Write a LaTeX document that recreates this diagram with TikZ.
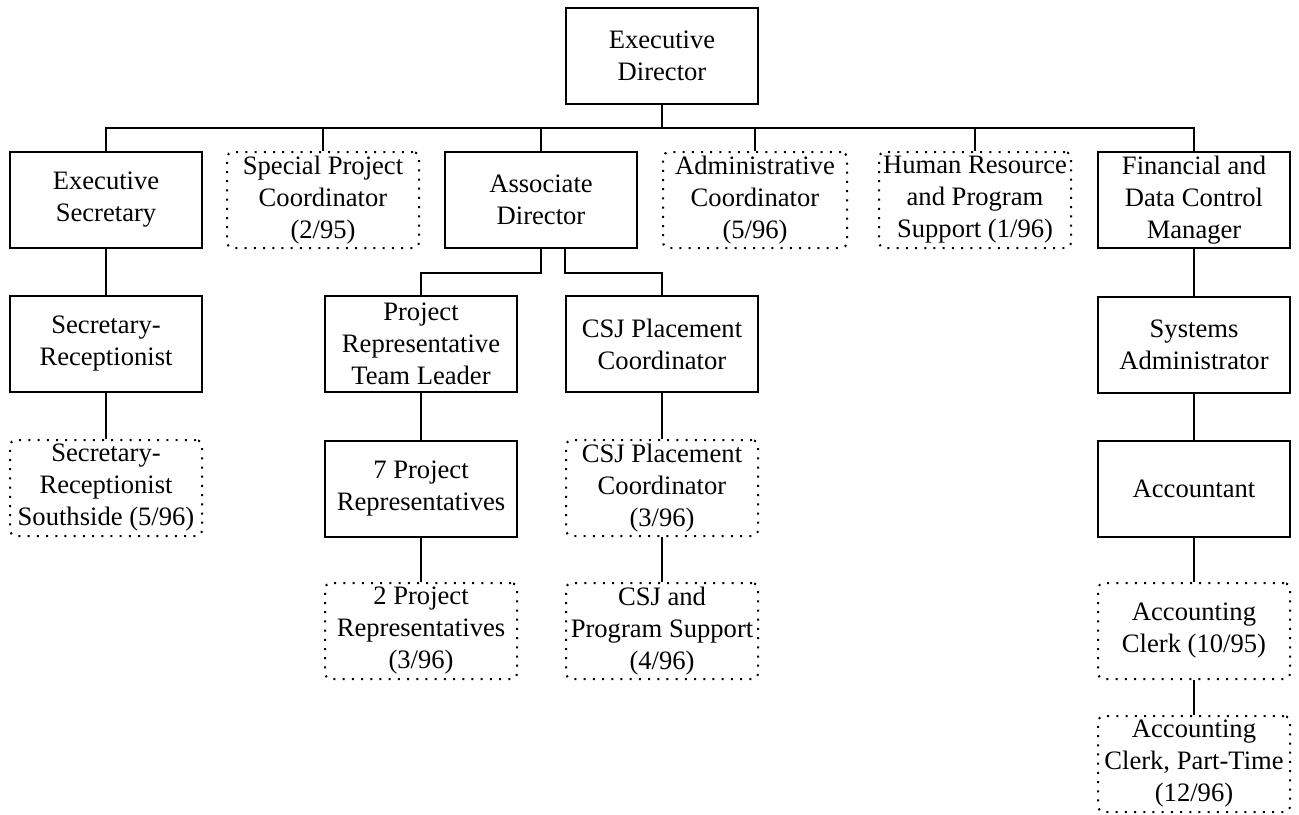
\documentclass[tikz,border=0pt]{standalone}
\usepackage{fontspec}
\setmainfont{Liberation Serif}
\usepackage{tikz}
\usetikzlibrary{positioning}

\begin{document}
\begin{tikzpicture}[x=0.5pt,y=-0.5pt,
  post/.style={draw,line width=1pt,minimum width=96pt,minimum height=48pt,align=center,inner sep=1pt,font=\fontsize{13.3}{16}\selectfont},
  newpost/.style={post,line width=1pt,dash pattern=on 1pt off 3.6pt,rounded corners=3pt},
  link/.style={line width=0.7pt}]
\useasboundingbox (0,0) rectangle (1299,814);
\node[post] (ed) at (662,56) {Executive\\Director};
\node[post] (es) at (106,200) {Executive\\Secretary};
\node[newpost] (spc) at (323,200) {Special Project\\Coordinator\\(2/95)};
\node[post] (ad) at (541,200) {Associate\\Director};
\node[newpost,minimum width=92pt] (ac) at (755,200) {Administrative\\Coordinator\\(5/96)};
\node[newpost] (hr) at (975,200) {Human Resource\\and Program\\Support (1/96)};
\node[post] (fdc) at (1194,200) {Financial and\\Data Control\\Manager};
\node[post] (sr) at (106,344) {Secretary-\\Receptionist};
\node[post] (prtl) at (421,344) {Project\\Representative\\Team Leader};
\node[post] (csj) at (662,344) {CSJ Placement\\Coordinator};
\node[post] (sa) at (1194,345) {Systems\\Administrator};
\node[newpost] (srs) at (106,488) {Secretary-\\Receptionist\\Southside (5/96)};
\node[post] (pr7) at (421,489) {7 Project\\Representatives};
\node[newpost] (csj2) at (662,488) {CSJ Placement\\Coordinator\\(3/96)};
\node[post] (acct) at (1194,489) {Accountant};
\node[newpost] (pr2) at (421,631) {2 Project\\Representatives\\(3/96)};
\node[newpost] (csjps) at (662,631) {CSJ and\\Program Support\\(4/96)};
\node[newpost] (clerk) at (1194,631) {Accounting\\Clerk (10/95)};
\node[newpost] (clerk2) at (1194,764) {Accounting\\Clerk, Part-Time\\(12/96)};
\foreach \c in {es,spc,ad,ac,hr,fdc}
  \draw[link] (ed.south) -- ++(0,23) -| (\c.north);
\draw[link] (ad.south) -- ++(0,24) -| (prtl.north);
\draw[link] ([xshift=12pt]ad.south) -- ++(0,24) -| (csj.north);
\foreach \a/\b in {es/sr,sr/srs,prtl/pr7,pr7/pr2,csj/csj2,csj2/csjps,fdc/sa,sa/acct,acct/clerk,clerk/clerk2}
  \draw[link] (\a.south) -- (\b.north);
\end{tikzpicture}
\end{document}
